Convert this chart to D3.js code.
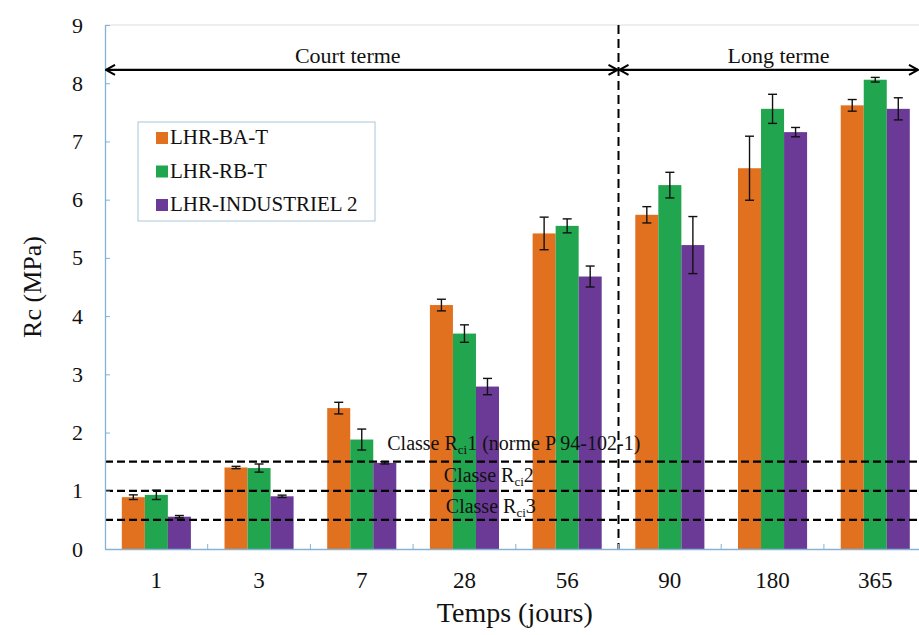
<!DOCTYPE html>
<html>
<head>
<meta charset="utf-8">
<script src="https://cdn.jsdelivr.net/npm/d3@7"></script>
<style>
  html, body { margin: 0; padding: 0; background: #fff; }
  svg { display: block; font-family: "Liberation Serif", "Times New Roman", serif; }
  svg text { font-family: "Liberation Serif", "Times New Roman", serif; }
</style>
</head>
<body>
<svg id="chart" width="919" height="635"></svg>
<script>
// ---- data ----
const categories = ["1", "3", "7", "28", "56", "90", "180", "365"];
const seriesNames = ["LHR-BA-T", "LHR-RB-T", "LHR-INDUSTRIEL 2"];
const seriesColors = ["#e2711f", "#21a54f", "#6a3a96"];
const baT     = [0.89, 1.40, 2.42, 4.19, 5.42, 5.74, 6.54, 7.62];
const baTErr  = [0.04, 0.02, 0.10, 0.10, 0.28, 0.14, 0.55, 0.10];
const rbT     = [0.93, 1.39, 1.88, 3.70, 5.55, 6.25, 7.56, 8.06];
const rbTErr  = [0.08, 0.07, 0.18, 0.15, 0.12, 0.22, 0.25, 0.04];
const ind2    = [0.555, 0.905, 1.48, 2.79, 4.68, 5.22, 7.16, 7.56];
const ind2Err = [0.02, 0.02, 0.02, 0.14, 0.18, 0.49, 0.08, 0.19];
const yTicks = [0, 1, 2, 3, 4, 5, 6, 7, 8, 9];
const classLevels = [1.5, 1.0, 0.5];
const classMain = ["Classe R", "Classe R", "Classe R"];
const classSub = ["ci", "ci", "ci"];
const classTail = ["1 (norme P 94-102-1)", "2", "3"];
const periodLabels = ["Court terme", "Long terme"];
const periodSplit = "90";
const periodArrowValue = 8.23;
const xTitle = "Temps (jours)";
const yTitle = "Rc (MPa)";

const values = [baT, rbT, ind2];
const errors = [baTErr, rbTErr, ind2Err];

(function () {
// ---- layout ----
const W = 919, H = 635;
const mLeft = 105, mTop = 25, mBottom = 549, mRight = 926.6;

const svg = d3.select("#chart");
svg.append("rect").attr("width", W).attr("height", H).attr("fill", "#fff");

const x0 = d3.scaleBand().domain(categories).range([mLeft, mRight]).paddingInner(0).paddingOuter(0);
const x1 = d3.scaleBand().domain(seriesNames).range([0, x0.bandwidth()]).paddingInner(0).paddingOuter(0.73);
const y = d3.scaleLinear().domain([0, 9]).range([mBottom, mTop]);
const color = d3.scaleOrdinal().domain(seriesNames).range(seriesColors);

const axisColor = "#86b3d3";

// top frame line
svg.append("line").attr("x1", mLeft).attr("x2", W).attr("y1", y(9)).attr("y2", y(9))
  .attr("stroke", "#d9dde2").attr("stroke-width", 1);

// bars
const rows = [];
categories.forEach((c, i) => seriesNames.forEach((s, j) => rows.push({c, s, v: values[j][i], e: errors[j][i]})));

svg.append("g").selectAll("rect").data(rows).join("rect")
  .attr("x", d => x0(d.c) + x1(d.s))
  .attr("y", d => y(d.v))
  .attr("width", x1.bandwidth())
  .attr("height", d => y(0) - y(d.v))
  .attr("fill", d => color(d.s));

// error bars
const eg = svg.append("g").attr("stroke", "#111").attr("stroke-width", 1.4);
rows.forEach(d => {
  const cx = x0(d.c) + x1(d.s) + x1.bandwidth() / 2;
  eg.append("line").attr("x1", cx).attr("x2", cx).attr("y1", y(d.v - d.e)).attr("y2", y(d.v + d.e));
  [d.v - d.e, d.v + d.e].forEach(t => {
    eg.append("line").attr("x1", cx - 4.5).attr("x2", cx + 4.5).attr("y1", y(t)).attr("y2", y(t));
  });
});

// class threshold dashed lines
svg.append("g").selectAll("line").data(classLevels).join("line")
  .attr("x1", mLeft).attr("x2", W)
  .attr("y1", d => y(d)).attr("y2", d => y(d))
  .attr("stroke", "#000").attr("stroke-width", 2.2).attr("stroke-dasharray", "8,4");

// class labels
const classOffsets = [-12, -9, -7];
const classCenters = [x0("56") - 2, x0("56") - 27, x0("56") - 25];
classLevels.forEach((lv, i) => {
  const t = svg.append("text").attr("x", classCenters[i]).attr("y", y(lv) + classOffsets[i])
    .attr("text-anchor", "middle").attr("font-size", 20).attr("fill", "#111");
  t.append("tspan").text(classMain[i]);
  t.append("tspan").attr("font-size", 13).attr("dy", 4).text(classSub[i]);
  t.append("tspan").attr("dy", -4).text(classTail[i]);
});

// vertical dashed separator
const splitX = x0(periodSplit);
svg.append("line").attr("x1", splitX).attr("x2", splitX).attr("y1", y(9)).attr("y2", y(0))
  .attr("stroke", "#000").attr("stroke-width", 2).attr("stroke-dasharray", "9,5");

// axes
const yAxis = d3.axisLeft(y).tickValues(yTicks).tickSizeInner(-5).tickSizeOuter(0).tickPadding(22);
const gy = svg.append("g").attr("transform", `translate(${mLeft},0)`).call(yAxis);
gy.attr("font-family", null);
gy.select(".domain").attr("stroke", axisColor).attr("stroke-width", 1.3);
gy.selectAll(".tick line").attr("stroke", axisColor);
gy.selectAll(".tick text").attr("font-size", 22).attr("fill", "#111");

const xAxis = d3.axisBottom(x0).tickSize(0).tickPadding(0);
const gx = svg.append("g").attr("transform", `translate(0,${mBottom})`).call(xAxis);
gx.attr("font-family", null);
gx.select(".domain").attr("stroke", axisColor).attr("stroke-width", 1.3);
gx.selectAll(".tick text").attr("font-size", 23).attr("fill", "#111").attr("y", 39).attr("dy", null);

// category boundary ticks
svg.append("g").selectAll("line").data(categories.slice(1)).join("line")
  .attr("x1", d => x0(d)).attr("x2", d => x0(d))
  .attr("y1", mBottom).attr("y2", mBottom - 5)
  .attr("stroke", axisColor).attr("stroke-width", 1);

// period arrows
const defs = svg.append("defs");
defs.append("marker").attr("id", "arrowEnd").attr("viewBox", "0 0 12 12").attr("refX", 11).attr("refY", 6)
  .attr("markerWidth", 12).attr("markerHeight", 12).attr("markerUnits", "userSpaceOnUse").attr("orient", "auto")
  .append("path").attr("d", "M2,1 L11,6 L2,11").attr("fill", "none").attr("stroke", "#000").attr("stroke-width", 2);
defs.append("marker").attr("id", "arrowStart").attr("viewBox", "0 0 12 12").attr("refX", 1).attr("refY", 6)
  .attr("markerWidth", 12).attr("markerHeight", 12).attr("markerUnits", "userSpaceOnUse").attr("orient", "auto")
  .append("path").attr("d", "M10,1 L1,6 L10,11").attr("fill", "none").attr("stroke", "#000").attr("stroke-width", 2);

const ay = y(periodArrowValue);
const spans = [[mLeft + 1, splitX - 1], [splitX + 1, W - 1]];
spans.forEach((s) => {
  svg.append("line").attr("x1", s[0]).attr("x2", s[1]).attr("y1", ay).attr("y2", ay)
    .attr("stroke", "#000").attr("stroke-width", 2.2)
    .attr("marker-start", "url(#arrowStart)").attr("marker-end", "url(#arrowEnd)");
});
const periodCenters = [(mLeft + splitX) / 2 - 14, (x0("180") + x0("365")) / 2 + 6];
periodLabels.forEach((t, i) => {
  svg.append("text").attr("x", periodCenters[i]).attr("y", ay - 7).attr("text-anchor", "middle")
    .attr("font-size", 22).attr("fill", "#111").text(t);
});

// legend
const lg = svg.append("g");
lg.append("rect").attr("x", 138).attr("y", 122).attr("width", 237).attr("height", 99)
  .attr("fill", "#fff").attr("stroke", "#a9c6da").attr("stroke-width", 1);
seriesNames.forEach((s, i) => {
  const by = 144 + i * 33.5;
  lg.append("rect").attr("x", 156).attr("y", by - 12).attr("width", 12).attr("height", 12).attr("fill", color(s));
  lg.append("text").attr("x", 170).attr("y", by).attr("font-size", 21).attr("fill", "#111").text(s);
});

// axis titles
svg.append("text").attr("x", (mLeft + mRight) / 2 - 1).attr("y", 622).attr("text-anchor", "middle")
  .attr("font-size", 28).attr("fill", "#111").text(xTitle);
svg.append("text").attr("transform", `translate(41,${(mTop + mBottom) / 2}) rotate(-90)`)
  .attr("text-anchor", "middle").attr("font-size", 26).attr("fill", "#111").text(yTitle);
})();
</script>
</body>
</html>
